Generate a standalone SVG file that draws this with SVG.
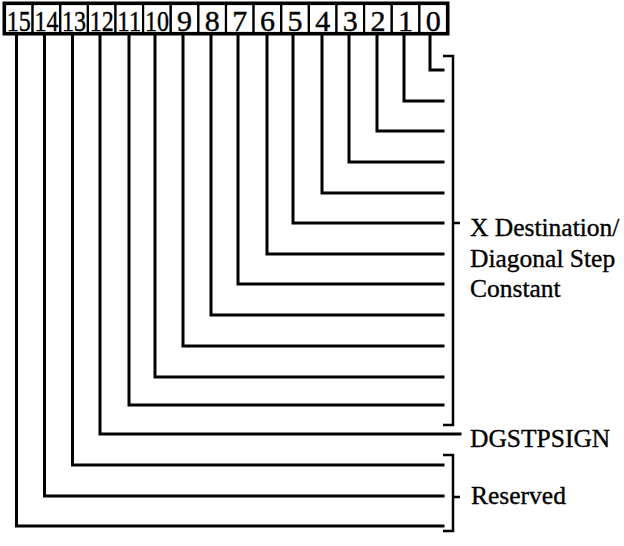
<svg xmlns="http://www.w3.org/2000/svg" width="624" height="546" viewBox="0 0 624 546">
<style>
.box{fill:#fff;stroke:#000;stroke-width:2.2}
.num{font-family:"Liberation Serif","Times New Roman",serif;font-size:30px;fill:#000;stroke:#000;stroke-width:0.4;text-anchor:middle}
.lbl{font-family:"Liberation Serif","Times New Roman",serif;font-size:25.5px;fill:#000;stroke:#000;stroke-width:0.35}
.wire{fill:none;stroke:#000;stroke-width:3;stroke-linejoin:miter;stroke-linecap:square}
.br{fill:none;stroke:#000;stroke-width:2.5;stroke-linecap:butt}
</style>
<rect x="4" y="3" width="444" height="31" fill="#fff" stroke="#000" stroke-width="3"/>
<g id="bit15"><rect class="box" x="5" y="4" width="27.6" height="29"/><text class="num" x="18.8" y="30.5" textLength="24" lengthAdjust="spacingAndGlyphs">15</text></g>
<g id="bit14"><rect class="box" x="32.6" y="4" width="27.6" height="29"/><text class="num" x="46.4" y="30.5" textLength="24" lengthAdjust="spacingAndGlyphs">14</text></g>
<g id="bit13"><rect class="box" x="60.3" y="4" width="27.6" height="29"/><text class="num" x="74.1" y="30.5" textLength="24" lengthAdjust="spacingAndGlyphs">13</text></g>
<g id="bit12"><rect class="box" x="87.9" y="4" width="27.6" height="29"/><text class="num" x="101.7" y="30.5" textLength="24" lengthAdjust="spacingAndGlyphs">12</text></g>
<g id="bit11"><rect class="box" x="115.5" y="4" width="27.6" height="29"/><text class="num" x="129.3" y="30.5" textLength="24" lengthAdjust="spacingAndGlyphs">11</text></g>
<g id="bit10"><rect class="box" x="143.1" y="4" width="27.6" height="29"/><text class="num" x="156.9" y="30.5" textLength="24" lengthAdjust="spacingAndGlyphs">10</text></g>
<g id="bit9"><rect class="box" x="170.8" y="4" width="27.6" height="29"/><text class="num" x="184.6" y="30.5">9</text></g>
<g id="bit8"><rect class="box" x="198.4" y="4" width="27.6" height="29"/><text class="num" x="212.2" y="30.5">8</text></g>
<g id="bit7"><rect class="box" x="226" y="4" width="27.6" height="29"/><text class="num" x="239.8" y="30.5">7</text></g>
<g id="bit6"><rect class="box" x="253.6" y="4" width="27.6" height="29"/><text class="num" x="267.4" y="30.5">6</text></g>
<g id="bit5"><rect class="box" x="281.3" y="4" width="27.6" height="29"/><text class="num" x="295.1" y="30.5">5</text></g>
<g id="bit4"><rect class="box" x="308.9" y="4" width="27.6" height="29"/><text class="num" x="322.7" y="30.5">4</text></g>
<g id="bit3"><rect class="box" x="336.5" y="4" width="27.6" height="29"/><text class="num" x="350.3" y="30.5">3</text></g>
<g id="bit2"><rect class="box" x="364.1" y="4" width="27.6" height="29"/><text class="num" x="377.9" y="30.5">2</text></g>
<g id="bit1"><rect class="box" x="391.8" y="4" width="27.6" height="29"/><text class="num" x="405.6" y="30.5">1</text></g>
<g id="bit0"><rect class="box" x="419.4" y="4" width="27.6" height="29"/><text class="num" x="433.2" y="30.5">0</text></g>
<g id="connectors">
<path class="wire" d="M430 35 V70 H443"/>
<path class="wire" d="M404 35 V101 H443"/>
<path class="wire" d="M377 35 V131 H443"/>
<path class="wire" d="M349 35 V162 H443"/>
<path class="wire" d="M322 35 V193 H443"/>
<path class="wire" d="M293 35 V223 H443"/>
<path class="wire" d="M267 35 V254 H443"/>
<path class="wire" d="M238 35 V284 H443"/>
<path class="wire" d="M211 35 V315 H443"/>
<path class="wire" d="M183 35 V346 H443"/>
<path class="wire" d="M155 35 V377 H443"/>
<path class="wire" d="M129 35 V405 H443"/>
<path class="wire" d="M100 35 V434 H460"/>
<path class="wire" d="M72.5 35 V465 H443"/>
<path class="wire" d="M44.5 35 V496 H443"/>
<path class="wire" d="M16.5 35 V526 H443"/>
<path class="br" d="M443 56 H453 V425 H443 M453 223 H460"/>
<path class="br" d="M443 455 H453 V531 H443 M453 497 H460"/>
</g>
<g id="label-xdest">
<text class="lbl" x="470" y="236">X Destination/</text>
<text class="lbl" x="470" y="267">Diagonal Step</text>
<text class="lbl" x="470" y="297">Constant</text>
</g>
<g id="label-dgstpsign"><text class="lbl" x="470" y="447">DGSTPSIGN</text></g>
<g id="label-reserved"><text class="lbl" x="471" y="504">Reserved</text></g>
</svg>
